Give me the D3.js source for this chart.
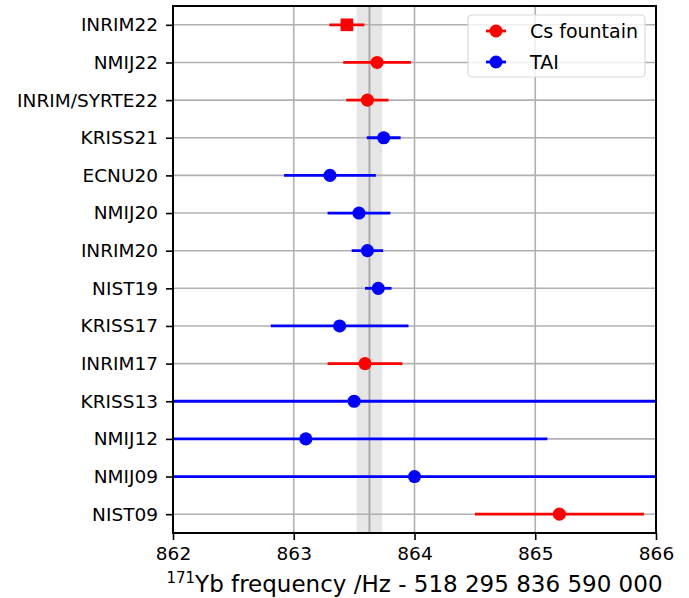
<!DOCTYPE html>
<meta charset="utf-8">
<style>
body { margin: 0; background: #fff; }
svg text { font-family: "DejaVu Sans", sans-serif; fill: #000; }
</style>
<body>
<script src="https://d3js.org/d3.v7.min.js"></script>
<script>

var width = 689
var height = 598

// measurements, top row first
var labels = ["INRIM22", "NMIJ22", "INRIM/SYRTE22", "KRISS21", "ECNU20", "NMIJ20", "INRIM20",
              "NIST19", "KRISS17", "INRIM17", "KRISS13", "NMIJ12", "NMIJ09", "NIST09"]
var values = [863.44, 863.69, 863.61, 863.745, 863.30, 863.54, 863.61,
              863.70, 863.38, 863.59, 863.50, 863.10, 864.00, 865.20]
var errors = [0.145, 0.28, 0.175, 0.14, 0.38, 0.26, 0.13,
              0.11, 0.57, 0.31, 2.6, 2.0, 2.5, 0.70]
var refs = ["Cs", "Cs", "Cs", "TAI", "TAI", "TAI", "TAI",
            "TAI", "TAI", "Cs", "TAI", "TAI", "TAI", "Cs"]
var shapes = ["square", "circle", "circle", "circle", "circle", "circle", "circle",
              "circle", "circle", "circle", "circle", "circle", "circle", "circle"]

// weighted mean band
var meanValue = 863.627
var meanError = 0.106

var xTicks = [862, 863, 864, 865, 866]
var legendNames = ["Cs fountain", "TAI"]
var legendKeys = ["Cs", "TAI"]

var color = d3.scaleOrdinal().domain(["Cs", "TAI"]).range(["#ff0000", "#0000ff"])

var margin = {top: 6, right: 33, bottom: 65, left: 173},
    w = width - margin.left - margin.right,
    h = height - margin.top - margin.bottom

var x = d3.scaleLinear().domain([862, 866]).range([0, w])
var y = d3.scaleLinear().domain([-0.5, labels.length - 0.5]).range([0, h])

var svg = d3.select("body").append("svg")
    .attr("width", width)
    .attr("height", height)

var g = svg.append("g")
    .attr("transform", "translate(" + margin.left + "," + margin.top + ")")

g.append("clipPath").attr("id", "clip")
  .append("rect").attr("width", w).attr("height", h)

var plot = g.append("g").attr("clip-path", "url(#clip)")

// band
plot.append("rect")
    .attr("x", x(meanValue - meanError))
    .attr("width", x(meanValue + meanError) - x(meanValue - meanError))
    .attr("y", 0)
    .attr("height", h)
    .attr("fill", "#e6e6e6")

// grid
plot.selectAll(".vgrid").data(xTicks).enter().append("line")
    .attr("x1", d => x(d)).attr("x2", d => x(d))
    .attr("y1", 0).attr("y2", h)
    .attr("stroke", "#b0b0b0").attr("stroke-width", 1.6)

plot.selectAll(".hgrid").data(labels).enter().append("line")
    .attr("x1", 0).attr("x2", w)
    .attr("y1", (d, i) => y(i)).attr("y2", (d, i) => y(i))
    .attr("stroke", "#b0b0b0").attr("stroke-width", 1.6)

plot.append("line")
    .attr("x1", x(meanValue)).attr("x2", x(meanValue))
    .attr("y1", 0).attr("y2", h)
    .attr("stroke", "#aaaaaa").attr("stroke-width", 2)

// error bars
plot.selectAll(".err").data(values).enter().append("line")
    .attr("x1", (d, i) => x(d - errors[i]))
    .attr("x2", (d, i) => x(d + errors[i]))
    .attr("y1", (d, i) => y(i)).attr("y2", (d, i) => y(i))
    .attr("stroke", (d, i) => color(refs[i]))
    .attr("stroke-width", 2.8)

plot.selectAll(".pt").data(values).enter().append("path")
    .attr("transform", (d, i) => "translate(" + x(d) + "," + y(i) + ")")
    .attr("d", (d, i) => shapes[i] == "square"
        ? d3.symbol(d3.symbolSquare, 160)()
        : d3.symbol(d3.symbolCircle, 135)())
    .attr("fill", (d, i) => color(refs[i]))

// axes
var xAxis = g.append("g")
    .attr("transform", "translate(0," + h + ")")
    .call(d3.axisBottom(x).tickValues(xTicks).tickFormat(d3.format("d")).tickSize(7).tickPadding(7))
var yAxis = g.append("g")
    .call(d3.axisLeft(y).tickValues(d3.range(labels.length)).tickFormat(i => labels[i]).tickSize(7).tickPadding(8))

;[xAxis, yAxis].forEach(function(a) {
  a.select(".domain").remove()
  a.selectAll("line").attr("stroke", "#000").attr("stroke-width", 1.6)
  a.selectAll("text").style("font-size", "18.5px").attr("fill", "#000")
})

g.append("rect")
    .attr("width", w).attr("height", h)
    .attr("fill", "none").attr("stroke", "#000").attr("stroke-width", 2)

g.append("text")
    .attr("x", w / 2)
    .attr("y", h + 59)
    .attr("text-anchor", "middle")
    .style("font-size", "23px")
    .html('<tspan baseline-shift="super" font-size="15px">171</tspan>Yb frequency /Hz - 518 295 836 590 000')

// legend
var leg = g.append("g").attr("transform", "translate(" + (468 - margin.left) + "," + (15 - margin.top) + ")")
leg.append("rect")
    .attr("width", 177).attr("height", 62).attr("rx", 4)
    .attr("fill", "#fff").attr("fill-opacity", 0.8)
    .attr("stroke", "#d9d9d9").attr("stroke-width", 1.2)

legendNames.forEach(function(name, i) {
  var ly = 16 + i * 31
  leg.append("line")
      .attr("x1", 18).attr("x2", 38).attr("y1", ly).attr("y2", ly)
      .attr("stroke", color(legendKeys[i])).attr("stroke-width", 2.8)
  leg.append("circle")
      .attr("cx", 28).attr("cy", ly).attr("r", 6.5)
      .attr("fill", color(legendKeys[i]))
  leg.append("text")
      .attr("x", 62).attr("y", ly).attr("dy", "0.35em")
      .style("font-size", "19px")
      .text(name)
})

</script>
</body>
